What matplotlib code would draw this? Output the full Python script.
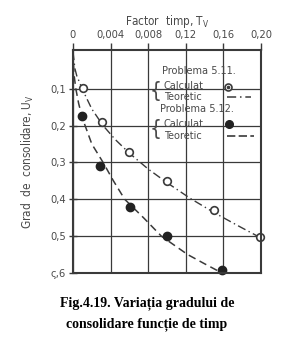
import matplotlib
matplotlib.use("Agg")
import matplotlib.pyplot as plt
from matplotlib.patches import Rectangle

# ---- data ----
x_ticks = [0.0, 0.04, 0.08, 0.12, 0.16, 0.20]
x_ticklabels = ["0", "0,004", "0,008", "0,12", "0,16", "0,20"]
y_ticks = [0.1, 0.2, 0.3, 0.4, 0.5, 0.6]
y_ticklabels = ["0,1", "0,2", "0,3", "0,4", "0,5", "ς,6"]

# Problema 5.11 - calculat (open circles)
calc511_T = [0.0106, 0.031, 0.060, 0.0995, 0.150, 0.199]
calc511_U = [0.099, 0.190, 0.272, 0.350, 0.429, 0.503]
# Problema 5.11 - teoretic (dash-dot)
teor511_T = [0.0, 0.002, 0.004, 0.0106, 0.02, 0.032, 0.045, 0.060, 0.080, 0.100, 0.125, 0.150, 0.175, 0.200]
teor511_U = [0.0, 0.045, 0.065, 0.105, 0.155, 0.200, 0.238, 0.275, 0.318, 0.355, 0.398, 0.436, 0.471, 0.505]

# Problema 5.12 - calculat (filled circles)
calc512_T = [0.0092, 0.029, 0.061, 0.0995, 0.159]
calc512_U = [0.174, 0.310, 0.420, 0.500, 0.592]
# Problema 5.12 - teoretic (dashed)
teor512_T = [0.0, 0.001, 0.003, 0.006, 0.010, 0.020, 0.032, 0.043, 0.055, 0.075, 0.094, 0.122, 0.140, 0.157]
teor512_U = [0.0, 0.060, 0.100, 0.140, 0.180, 0.250, 0.300, 0.350, 0.400, 0.450, 0.500, 0.550, 0.575, 0.598]

ink = "#3a3a3a"
txt = "#4a4a4a"
font = dict(family="DejaVu Sans", stretch="condensed")

fig = plt.figure(figsize=(2.94, 3.43), dpi=100)
ax = fig.add_axes([73/294, 1-273/343, 188/294, 223/343])
ax.set_xlim(0, 0.2)
ax.set_ylim(0.6, -0.005)

ax.set_xticks(x_ticks)
ax.set_xticklabels(x_ticklabels, fontsize=8, color=txt, **font)
ax.set_yticks(y_ticks)
ax.set_yticklabels(y_ticklabels, fontsize=8, color=txt, **font)
ax.xaxis.tick_top()
ax.xaxis.set_label_position("top")
ax.tick_params(axis="x", direction="out", length=5, width=1, color=ink, pad=2)
ax.tick_params(axis="y", direction="inout", length=6, width=1, color=ink, pad=2)
ax.set_xlabel("Factor  timp, T$_\\mathregular{V}$", fontsize=8.5, color=txt, labelpad=4, **font)
ax.set_ylabel("Grad  de  consolidare, U$_\\mathregular{V}$", fontsize=8.5, color=txt, labelpad=10, **font)

ax.grid(True, color=ink, linewidth=0.9, zorder=0)
for s in ax.spines.values():
    s.set_linewidth(1.5)
    s.set_color(ink)
    s.set_zorder(5)

# white mask behind the legend text
ax.add_patch(Rectangle((0.084, 0.016), 0.2 - 0.084, 0.28 - 0.016,
                       facecolor="white", edgecolor="none", zorder=1))

# curves
ax.plot(teor511_T, teor511_U, color=ink, linestyle=(0, (6, 2.5, 1, 2.5)), linewidth=1.0, zorder=3)
ax.plot(teor512_T, teor512_U, color=ink, linestyle=(0, (5, 3)), linewidth=1.1, zorder=3)
ax.plot(calc511_T, calc511_U, linestyle="none", marker="o", markersize=5.5,
        markerfacecolor="white", markeredgecolor=ink, markeredgewidth=1.2, zorder=4, clip_on=False)
ax.plot(calc512_T, calc512_U, linestyle="none", marker="o", markersize=6,
        markerfacecolor="#222222", markeredgecolor="#222222", zorder=4, clip_on=False)

# legend text (axes fraction positions)
def ap(px, py):
    return ((px - 73) / 188, (273 - py) / 223)

tkw = dict(transform=ax.transAxes, fontsize=7.8, color=txt, va="center", ha="left", zorder=6, **font)
ax.text(*ap(162, 71), "Problema 5.11.", **tkw)
ax.text(*ap(164, 86), "Calculat", **tkw)
ax.text(*ap(164, 97), "Teoretic", **tkw)
ax.text(*ap(160, 109), "Problema 5.12.", **tkw)
ax.text(*ap(164, 124), "Calculat", **tkw)
ax.text(*ap(164, 136), "Teoretic", **tkw)
bkw = dict(transform=ax.transAxes, fontsize=15, color=txt, va="center", ha="right", zorder=6,
           family="DejaVu Sans", fontweight="light", stretch="condensed")
ax.text(*ap(162, 91), "{", **bkw)
ax.text(*ap(162, 129), "{", **bkw)

# legend samples
x0, y0 = ap(228, 87)
ax.plot([x0], [y0], transform=ax.transAxes, marker="o", markersize=5, markerfacecolor="white",
        markeredgecolor=ink, markeredgewidth=1.2, zorder=6)
ax.plot([x0], [y0], transform=ax.transAxes, marker="o", markersize=1.6, color=ink, zorder=7)
xa, ya = ap(227, 97)
xb, _ = ap(251, 97)
ax.plot([xa, xb], [ya, ya], transform=ax.transAxes, color=ink, linestyle=(0, (6, 2.5, 1, 2.5)), linewidth=1.1, zorder=6)
x1, y1 = ap(229, 124)
ax.plot([x1], [y1], transform=ax.transAxes, marker="o", markersize=5.5, color="#222222", zorder=6)
xa, ya = ap(227, 136)
xb, _ = ap(254, 136)
ax.plot([xa, xb], [ya, ya], transform=ax.transAxes, color=ink, linestyle=(0, (5, 2)), linewidth=1.2, zorder=6)

# caption
ckw = dict(fontsize=10, fontweight="bold", family="Liberation Serif", ha="center", va="center", color="black")
fig.text(147/294, 1 - 303/343, "Fig.4.19. Variația gradului de", **ckw)
fig.text(147/294, 1 - 324/343, "consolidare funcție de timp", **ckw)

fig.savefig("out.png", dpi=100)
